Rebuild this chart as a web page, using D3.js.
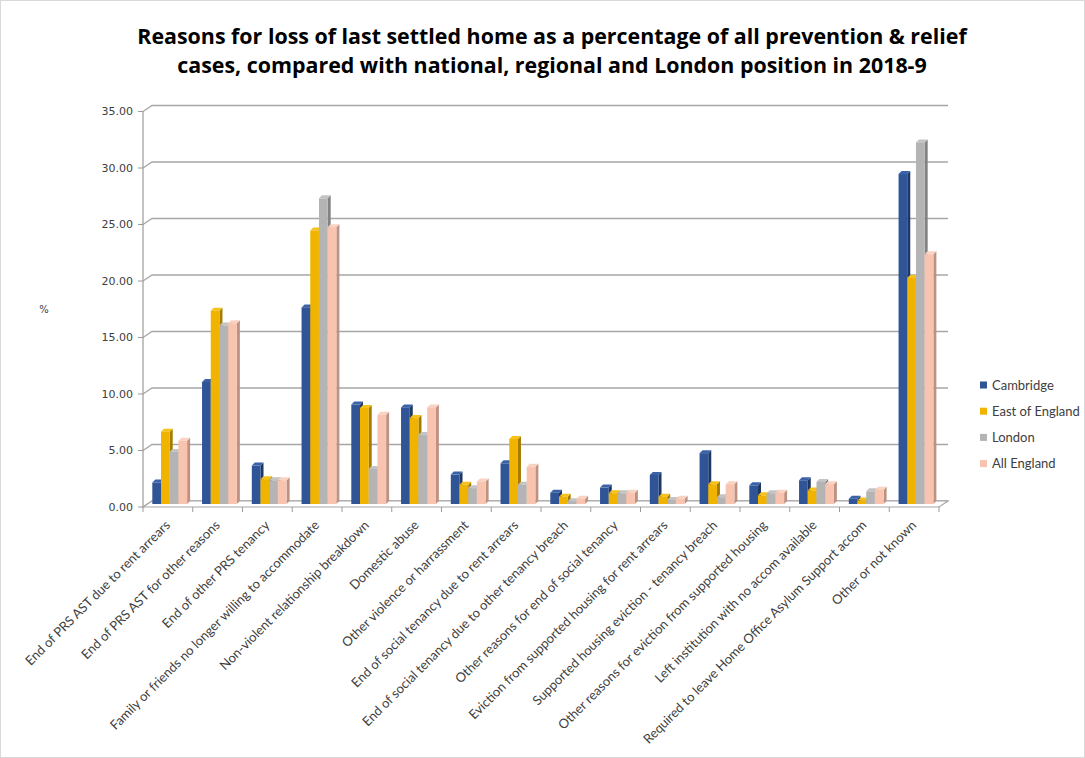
<!DOCTYPE html>
<html><head><meta charset="utf-8">
<script src="https://cdn.jsdelivr.net/npm/d3@7"></script>
<style>body{margin:0;background:#fff}svg{display:block}</style>
</head><body>
<svg id="c" width="1085" height="758"></svg>
<script>
const categories = [
  "End of PRS AST due to rent arrears",
  "End of PRS AST for other reasons",
  "End of other PRS tenancy",
  "Family or friends no longer willing to accommodate",
  "Non-violent relationship breakdown",
  "Domestic abuse",
  "Other violence or harrassment",
  "End of social tenancy due to rent arrears",
  "End of social tenancy due to other tenancy breach",
  "Other reasons for end of social tenancy",
  "Eviction from supported housing for rent arrears",
  "Supported housing eviction - tenancy breach",
  "Other reasons for eviction from supported housing",
  "Left institution with no accom available",
  "Required to leave Home Office Asylum Support accom",
  "Other or not known"
];
const seriesNames = ["Cambridge", "East of England", "London", "All England"];
const cambridge     = [1.9, 10.8, 3.4, 17.4, 8.8, 8.55, 2.6, 3.6, 1.0, 1.45, 2.57, 4.5, 1.65, 2.1, 0.47, 29.2];
const eastOfEngland = [6.4, 17.1, 2.2, 24.2, 8.5, 7.6, 1.7, 5.75, 0.65, 0.95, 0.65, 1.75, 0.77, 1.2, 0.3, 20.0];
const london        = [4.6, 15.8, 2.1, 27.05, 3.1, 6.1, 1.4, 1.7, 0.25, 0.95, 0.35, 0.6, 0.95, 1.95, 1.12, 32.0];
const allEngland    = [5.6, 16.0, 2.1, 24.5, 7.9, 8.55, 2.0, 3.3, 0.47, 1.0, 0.47, 1.75, 1.0, 1.75, 1.27, 22.1];
const yTicks = [0, 5, 10, 15, 20, 25, 30, 35];
const titleLines = [
  "Reasons for loss of last settled home as a percentage of all prevention & relief",
  "cases, compared with national, regional and London position in 2018-9"
];

const values = [cambridge, eastOfEngland, london, allEngland];
const colors = [
  {front:"#2F5597", side:"#1E3764", top:"#3A62A8"},
  {front:"#F0B400", side:"#A57C00", top:"#F6C21A"},
  {front:"#B4B4B4", side:"#828282", top:"#C4C4C4"},
  {front:"#F8C4B0", side:"#BE9282", top:"#FAD2C2"}
];

const svg = d3.select("#c");
const W = 1085, H = 758;
svg.append("rect").attr("x",0.5).attr("y",0.5).attr("width",W-1).attr("height",H-1)
  .attr("fill","#fff").attr("stroke","#D9D9D9");

const x0 = 143, x1 = 939;
const dX = 9, dY = -6;       // wall depth
const bD = 3;                // bar depth
const x = d3.scaleBand().domain(categories).range([x0, x1]).padding(0);
const xs = d3.scaleBand().domain(seriesNames).range([0, x.bandwidth()*0.70]);
const y = d3.scaleLinear().domain([0, 35]).range([507, 111.5]);

const grid = svg.append("g");
yTicks.forEach(t => {
  const yy = y(t);
  grid.append("path")
    .attr("d", `M${x0},${yy}L${x0+dX},${yy+dY}L${x1+dX},${yy+dY}`)
    .attr("fill","none").attr("stroke","#A6A6A6").attr("stroke-width",1.3);
});
svg.append("line").attr("x1",x0).attr("x2",x0).attr("y1",y(0)).attr("y2",y(35))
  .attr("stroke","#9A9A9A").attr("stroke-width",1.2);
svg.append("path")
  .attr("d",`M${x0},${y(0)}L${x1},${y(0)}L${x1+dX},${y(0)+dY}L${x0+dX},${y(0)+dY}Z`)
  .attr("fill","#fff").attr("stroke","#A6A6A6").attr("stroke-width",1.2);

yTicks.forEach(t => {
  svg.append("line").attr("x1",x0-5).attr("x2",x0).attr("y1",y(t)).attr("y2",y(t))
    .attr("stroke","#9A9A9A");
  svg.append("text").attr("x",x0-10).attr("y",y(t)).attr("dy","0.35em")
    .attr("text-anchor","end").attr("font-family","DejaVu Sans").attr("font-size",11)
    .attr("fill","#404040").text(d3.format(".2f")(t));
});
for (let i=0;i<=categories.length;i++){
  const xx = x0 + i*x.bandwidth();
  svg.append("line").attr("x1",xx).attr("x2",xx).attr("y1",y(0)).attr("y2",y(0)+5)
    .attr("stroke","#9A9A9A");
}

const bars = svg.append("g");
categories.forEach((c, ci) => {
  seriesNames.forEach((s, si) => {
    const v = values[si][ci];
    const bx = x(c) + x.bandwidth()*0.187 + xs(s);
    const bw = xs.bandwidth();
    const base = y(0) - bD;
    const top = y(v) - bD;
    const col = colors[si];
    bars.append("path")
      .attr("d",`M${bx+bw},${top}L${bx+bw+bD},${top-bD}L${bx+bw+bD},${base-bD}L${bx+bw},${base}Z`)
      .attr("fill",col.side);
    bars.append("path")
      .attr("d",`M${bx},${top}L${bx+bD},${top-bD}L${bx+bw+bD},${top-bD}L${bx+bw},${top}Z`)
      .attr("fill",col.top);
    bars.append("rect").attr("x",bx).attr("y",top).attr("width",bw).attr("height",base-top)
      .attr("fill",col.front);
  });
});

categories.forEach(c => {
  const cx = x(c) + x.bandwidth()/2;
  svg.append("text")
    .attr("transform",`translate(${cx+3},${y(0)+19}) rotate(-45)`)
    .attr("text-anchor","end").attr("font-family","Lato").attr("font-size",13)
    .attr("fill","#404040").text(c);
});

titleLines.forEach((t,i) => {
  svg.append("text").attr("x",552).attr("y",44+i*29).attr("text-anchor","middle")
    .attr("font-family","Open Sans").attr("font-weight","bold").attr("font-size",21.4)
    .attr("fill","#000").text(t);
});

svg.append("text").attr("x",44).attr("y",309).attr("dy","0.35em").attr("text-anchor","middle")
  .attr("font-family","DejaVu Sans").attr("font-size",10).attr("fill","#404040").text("%");

const leg = svg.append("g");
seriesNames.forEach((s,i) => {
  const ly = 385 + i*26.2;
  leg.append("rect").attr("x",980).attr("y",ly-3.5).attr("width",7).attr("height",7)
    .attr("fill",colors[i].front);
  leg.append("text").attr("x",992).attr("y",ly).attr("dy","0.35em")
    .attr("font-family","Lato").attr("font-size",13).attr("fill","#404040").text(s);
});
</script>
</body></html>
